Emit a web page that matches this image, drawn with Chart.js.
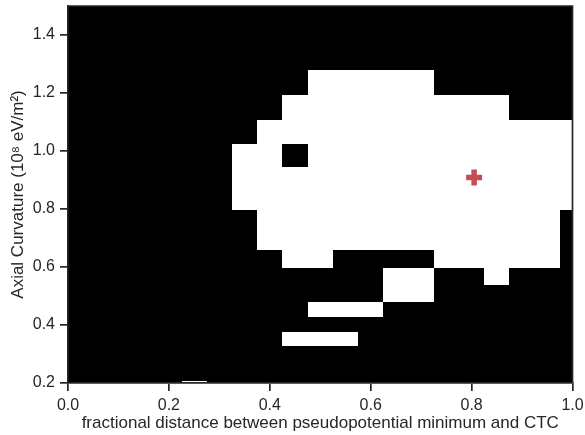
<!DOCTYPE html>
<html>
<head>
<meta charset="utf-8">
<script src="https://cdn.jsdelivr.net/npm/chart.js@4.4.1/dist/chart.umd.min.js"></script>
<style>
  html, body { margin: 0; padding: 0; background: #fff; }
  #wrap { width: 585px; height: 435px; }
</style>
</head>
<body>
<div id="wrap"><canvas id="mapChart"></canvas></div>
<script>
// ========================
// DATA
// ========================
// cell centres along x (fractional distance)
const xCenters = [0, 0.05, 0.1, 0.15, 0.2, 0.25, 0.3, 0.35, 0.4, 0.45, 0.5,
                  0.55, 0.6, 0.65, 0.7, 0.75, 0.8, 0.85, 0.9, 0.95, 1.0];
// cell edges along y (axial curvature, 1e8 eV/m^2), bottom to top
const yEdges = [0.169, 0.206, 0.241, 0.282, 0.328, 0.376, 0.428, 0.479, 0.538,
                0.597, 0.659, 0.726, 0.797, 0.869, 0.945, 1.024, 1.107, 1.193,
                1.279, 1.371, 1.466, 1.565];
// stable (1) / unstable (0) cells, top row first
const maskRows = [
  '000000000000000000000',
  '000000000000000000000',
  '000000000000000000000',
  '000000000011111000000',
  '000000000111111111000',
  '000000001111111111111',
  '000000011011111111111',
  '000000011111111111111',
  '000000011111111111111',
  '000000001111111111110',
  '000000001111111111110',
  '000000000110000111110',
  '000000000000011001000',
  '000000000000011000000',
  '000000000011100000000',
  '000000000000000000000',
  '000000000111000000000',
  '000000000000000000000',
  '000000000000000000000',
  '000000000000000000000',
  '000001000000000000000'
];
// optimum marker
const bestPoint = [{ x: 0.805, y: 0.909 }];

const xTicks = [0, 0.2, 0.4, 0.6, 0.8, 1.0];
const yTicks = [0.2, 0.4, 0.6, 0.8, 1.0, 1.2, 1.4];

const TEXT = '#262626';
const FONT = "'Liberation Sans', Arial, sans-serif";

// x edges as midpoints between centres
function xEdgesFrom(c) {
  const e = [c[0] - (c[1] - c[0]) / 2];
  for (let i = 0; i < c.length - 1; i++) e.push((c[i] + c[i + 1]) / 2);
  e.push(c[c.length - 1] + (c[c.length - 1] - c[c.length - 2]) / 2);
  return e;
}

// no extra label overhang padding, layout.padding decides the box
function noOverhang(s) {
  s.paddingTop = 0; s.paddingBottom = 0;
  s.paddingLeft = 0; s.paddingRight = 0;
}

// ========================
// CELL PLUGIN
// ========================
const meshPlugin = {
  id: 'mesh',
  beforeDraw(chart) {
    const { ctx, chartArea: a, scales: { x, y } } = chart;
    const xe = xEdgesFrom(xCenters);
    const nRows = maskRows.length;
    ctx.save();
    ctx.beginPath();
    ctx.rect(a.left, a.top, a.right - a.left, a.bottom - a.top);
    ctx.clip();
    ctx.fillStyle = '#000';
    ctx.fillRect(a.left, a.top, a.right - a.left, a.bottom - a.top);
    for (let j = 0; j < nRows; j++) {
      const row = maskRows[nRows - 1 - j];
      const y0 = Math.round(y.getPixelForValue(yEdges[j]));
      const y1 = Math.round(y.getPixelForValue(yEdges[j + 1]));
      for (let i = 0; i < xCenters.length; i++) {
        const x0 = Math.round(x.getPixelForValue(xe[i]));
        const x1 = Math.round(x.getPixelForValue(xe[i + 1]));
        ctx.fillStyle = row[i] === '1' ? '#fff' : '#000';
        ctx.fillRect(x0, y1, x1 - x0, y0 - y1);
      }
    }
    ctx.restore();
  },
  afterDraw(chart) {
    const { ctx, chartArea: a } = chart;
    ctx.save();
    ctx.strokeStyle = TEXT;
    ctx.lineWidth = 1.7;
    ctx.beginPath();
    ctx.moveTo(a.left, a.top);
    ctx.lineTo(a.right, a.top);
    ctx.lineTo(a.right, a.bottom);
    ctx.stroke();
    ctx.restore();
  }
};

// ========================
// CHART
// ========================
const ctx = document.getElementById('mapChart').getContext('2d');
new Chart(ctx, {
  type: 'scatter',
  data: {
    datasets: [{
      data: bestPoint,
      pointStyle: 'cross',
      radius: 8,
      borderWidth: 5.5,
      borderColor: '#c44e52',
      backgroundColor: '#c44e52'
    }]
  },
  options: {
    responsive: true,
    maintainAspectRatio: false,
    animation: false,
    layout: { autoPadding: false, padding: { left: 0, top: 6, right: 12.5, bottom: 0 } },
    plugins: {
      legend: { display: false },
      tooltip: { enabled: false }
    },
    scales: {
      x: {
        type: 'linear',
        min: 0, max: 1,
        afterFit: s => { s.height = 52; noOverhang(s); },
        afterBuildTicks: s => { s.ticks = xTicks.map(v => ({ value: v })); },
        ticks: {
          color: TEXT, padding: 5,
          font: { family: FONT, size: 16 },
          callback: v => v.toFixed(1)
        },
        grid: { drawOnChartArea: false, drawTicks: true, tickLength: 8, color: TEXT, lineWidth: 1.7 },
        border: { display: true, color: TEXT, width: 1.7 },
        title: {
          display: true,
          text: 'fractional distance between pseudopotential minimum and CTC',
          color: TEXT,
          font: { family: FONT, size: 17 },
          padding: { top: 0, bottom: 1.5 }
        }
      },
      y: {
        type: 'linear',
        min: 0.2, max: 1.5,
        afterFit: s => { s.width = 68; noOverhang(s); },
        afterBuildTicks: s => { s.ticks = yTicks.map(v => ({ value: v })); },
        ticks: {
          color: TEXT, padding: 5,
          font: { family: FONT, size: 16 },
          callback: v => v.toFixed(1)
        },
        grid: { drawOnChartArea: false, drawTicks: true, tickLength: 8, color: TEXT, lineWidth: 1.7 },
        border: { display: true, color: TEXT, width: 1.7 },
        title: {
          display: true,
          text: 'Axial Curvature (10⁸ eV/m²)',
          color: TEXT,
          font: { family: FONT, size: 17 },
          padding: { top: 8, bottom: 0 }
        }
      }
    }
  },
  plugins: [meshPlugin]
});
</script>
</body>
</html>
